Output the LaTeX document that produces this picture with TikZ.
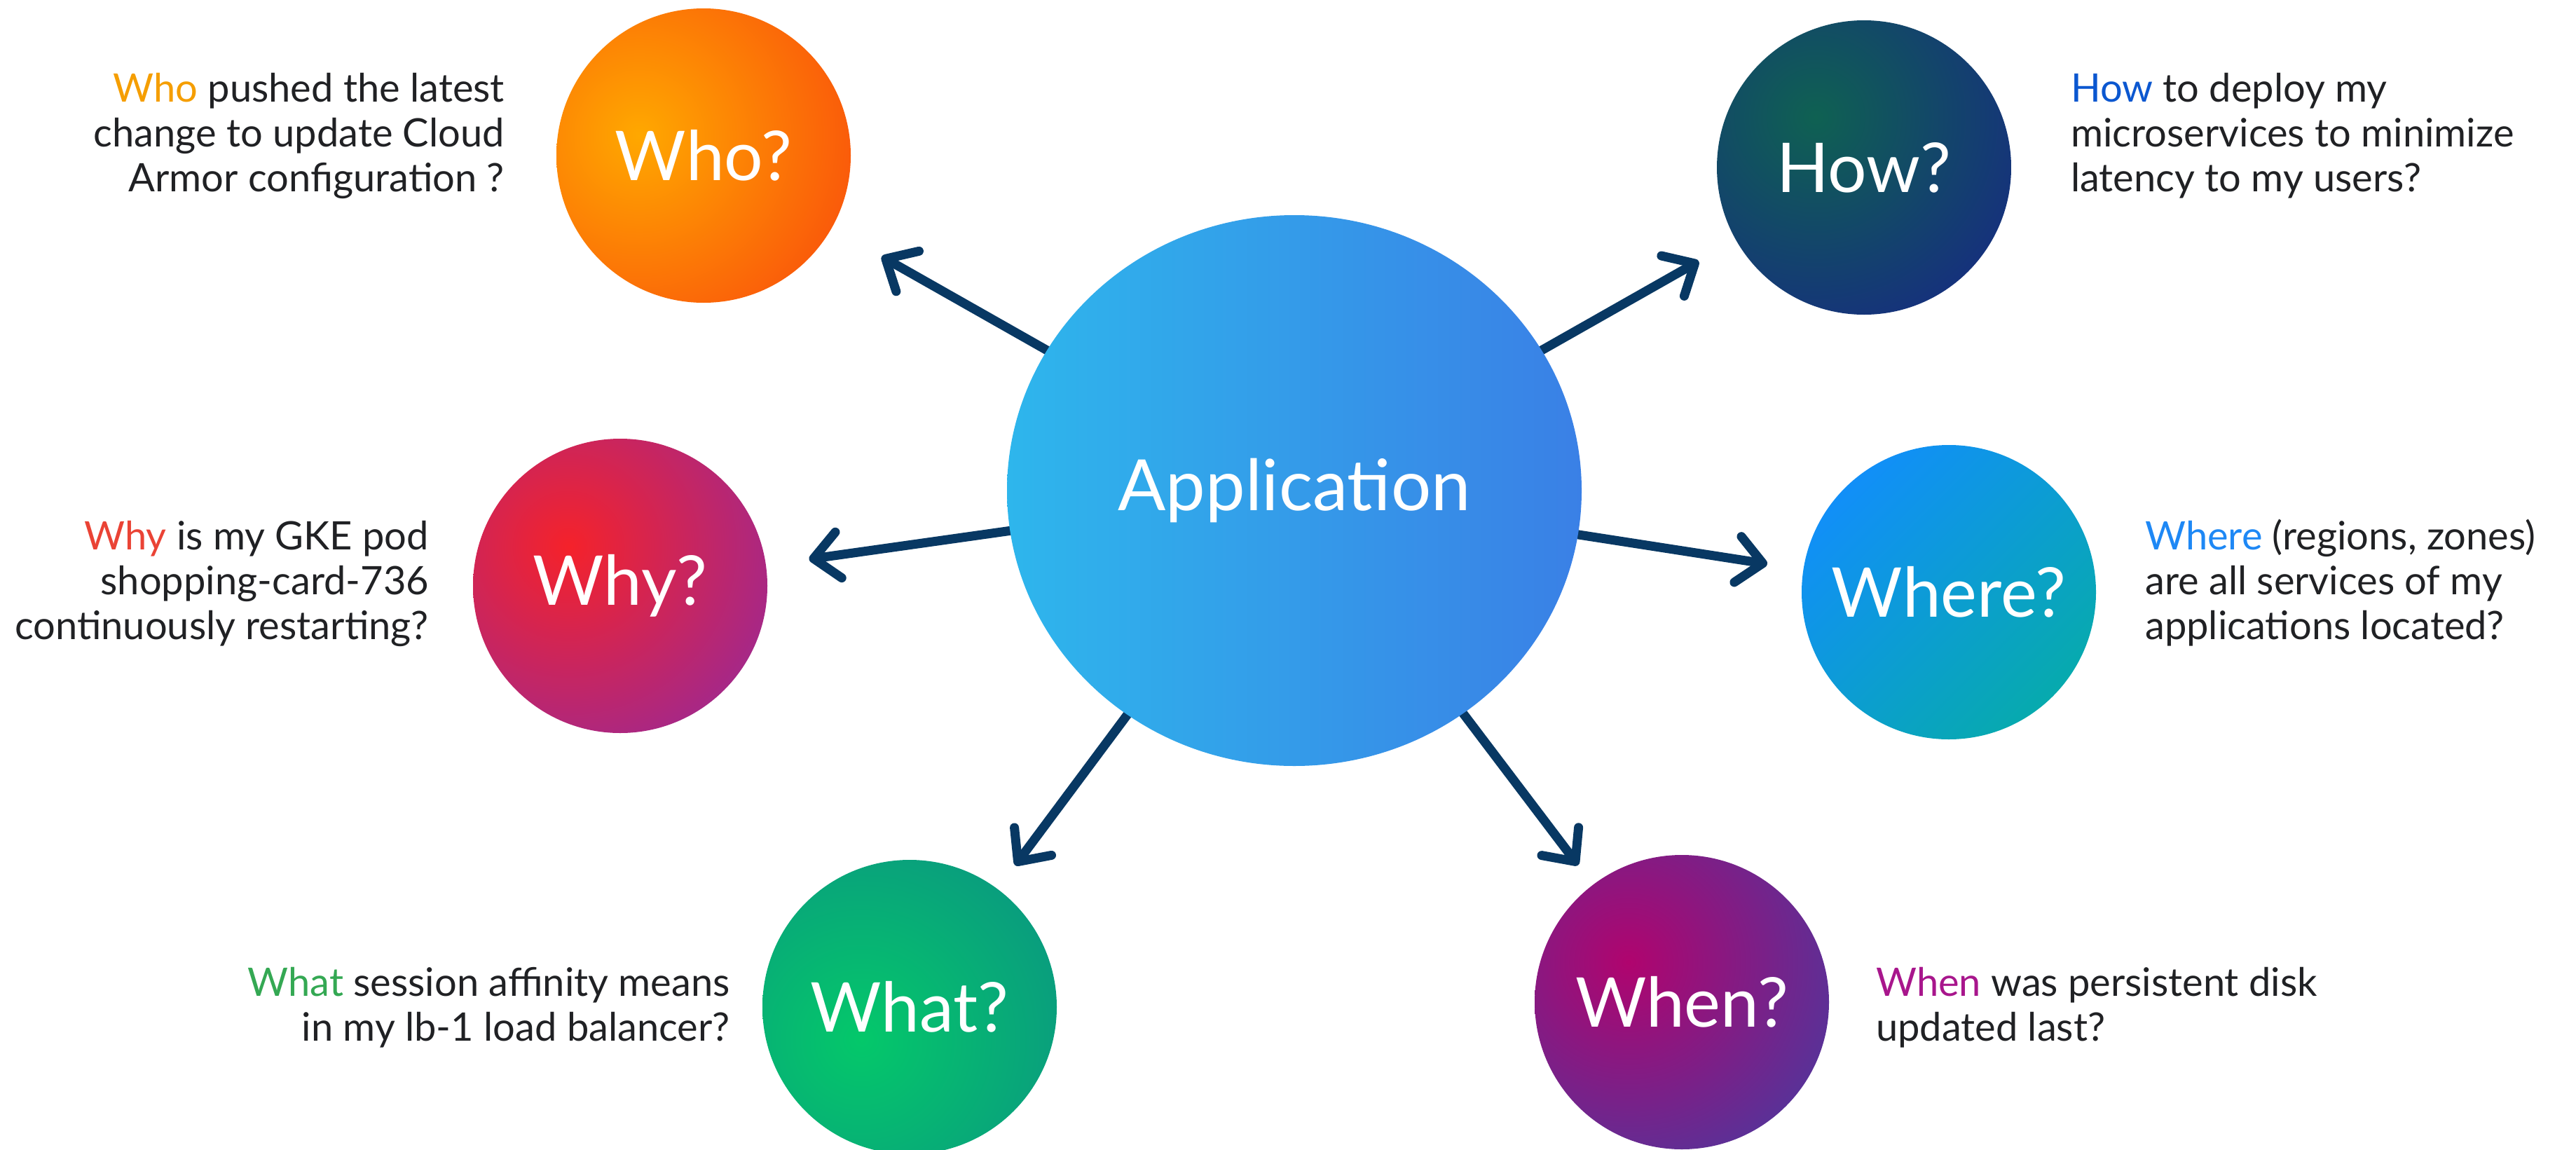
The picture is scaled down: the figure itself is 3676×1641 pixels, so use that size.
\documentclass[tikz,border=0pt]{standalone}
\usepackage{fontspec}
\setmainfont{Lato}
\usetikzlibrary{shapes.geometric,arrows.meta,backgrounds}
\definecolor{navy}{HTML}{083863}
\definecolor{ink}{HTML}{202124}
\definecolor{whoc}{HTML}{F59E00}
\definecolor{howc}{HTML}{0B57D0}
\definecolor{whyc}{HTML}{EA4335}
\definecolor{wherec}{HTML}{1E88F5}
\definecolor{whatc}{HTML}{34A853}
\definecolor{whenc}{HTML}{A8168C}
\definecolor{appl}{HTML}{2EB6EC}
\definecolor{appr}{HTML}{3A80E6}
\definecolor{whoin}{HTML}{FFA800}
\definecolor{whoout}{HTML}{FA5A0A}
\definecolor{howin}{HTML}{0F6152}
\definecolor{howout}{HTML}{162F7E}
\definecolor{whyin}{HTML}{F5222A}
\definecolor{whyout}{HTML}{A2288C}
\definecolor{wherein}{HTML}{118FF8}
\definecolor{whereout}{HTML}{07AAAE}
\definecolor{whatin}{HTML}{04C86A}
\definecolor{whatout}{HTML}{0A9A7F}
\definecolor{whenin}{HTML}{B0046E}
\definecolor{whenout}{HTML}{563399}
\begin{document}
\begin{tikzpicture}[x=1pt,y=-1pt,
  bubble/.style={circle, minimum size=420pt, inner sep=0pt, text=white,
    font=\fontsize{98}{110}\selectfont},
  rball/.style n args={5}{path picture={\shade[inner color=#1, outer color=#2]
    ([shift={(#3,#4)}]path picture bounding box.center) circle (#5pt);}},
  conn/.style={line width=13pt, draw=navy,
    -{Straight Barb[length=36pt,width=66pt,line cap=round,line join=round]}},
  question/.style={font=\fontsize{56}{64}\selectfont, text=ink, inner sep=0pt}
]
\useasboundingbox (0,0) rectangle (3676,1641);

% central node
\node[ellipse, minimum width=820pt, minimum height=786pt, inner sep=0pt,
  left color=appl, right color=appr, text=white,
  font=\fontsize{101}{112}\selectfont] (app) at (1847,700) {Application};

% question bubbles
\node[bubble, rball={whoin}{whoout}{-92}{-29}{310}] (who) at (1004,222) {Who?};
\node[bubble, rball={howin}{howout}{-69}{-72}{330}] (how) at (2660,239) {How?};
\node[bubble, rball={whyin}{whyout}{-74}{-56}{320}] (why) at (885,836) {Why?};
\node[bubble, top color=wherein, bottom color=whereout, shading angle=45] (where) at (2781,845) {Where?};
\node[bubble, rball={whatin}{whatout}{-69}{46}{320}] (what) at (1298,1437) {What?};
\node[bubble, rball={whenin}{whenout}{-76}{-57}{320}] (when) at (2400,1430) {When?};

% question texts (anchored at the baseline of their last line)
\node[question, anchor=base east, align=right] (whot) at (720,273)
  {\textcolor{whoc}{Who} pushed the latest\\change to update Cloud\\Armor configuration ?};
\node[question, anchor=base west, align=left] (howt) at (2955,273)
  {\textcolor{howc}{How} to deploy my\\microservices to minimize\\latency to my users?};
\node[question, anchor=base east, align=right] (whyt) at (612,912)
  {\textcolor{whyc}{Why} is my GKE pod\\shopping-card-736\\continuously restarting?};
\node[question, anchor=base west, align=left] (wheret) at (3061,912)
  {\textcolor{wherec}{Where} (regions, zones)\\are all services of my\\applications located?};
\node[question, anchor=base east, align=right] (whatt) at (1042,1485)
  {\textcolor{whatc}{What} session affinity means\\in my lb-1 load balancer?};
\node[question, anchor=base west, align=left] (whent) at (2677,1485)
  {\textcolor{whenc}{When} was persistent disk\\updated last?};

% connectors behind the central node
\begin{scope}[on background layer]
\fill[white] (0,0) rectangle (3676,1641);
\draw[conn, shorten >=82pt] (app.center) -- (who);
\draw[conn, shorten >=61pt] (app.center) -- (how);
\draw[conn, shorten >=62pt] (app.center) -- (why);
\draw[conn, shorten >=52pt] (app.center) -- (where);
\draw[conn, shorten >=42pt] (app.center) -- (what);
\draw[conn, shorten >=35pt] (app.center) -- (when);
\end{scope}
\end{tikzpicture}
\end{document}
